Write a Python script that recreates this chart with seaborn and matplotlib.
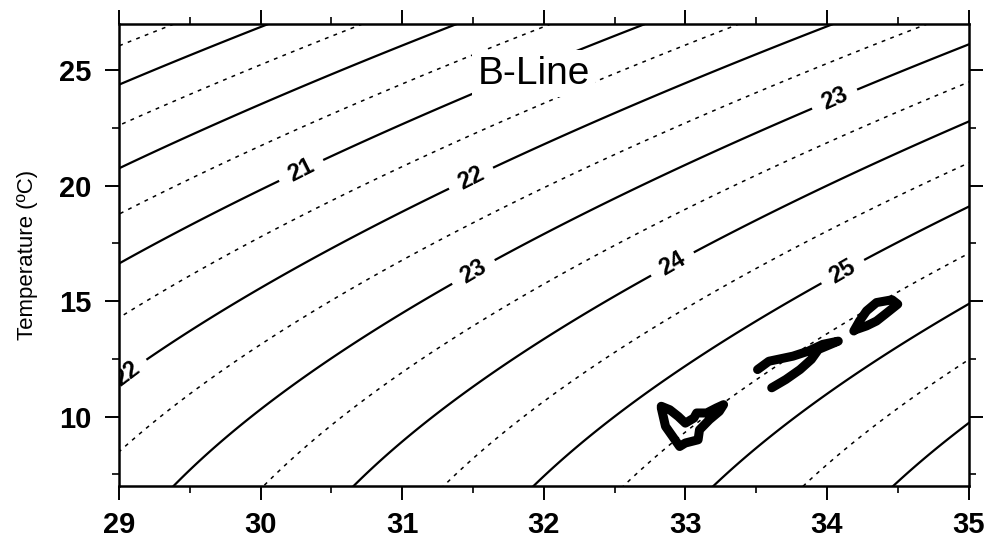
import numpy as np
import pandas as pd
import matplotlib
matplotlib.use("Agg")
import matplotlib.pyplot as plt
from matplotlib.ticker import MultipleLocator
import seaborn as sns

# Axis ranges and ticks
sal_range = (29.0, 35.0)
temp_range = (7.0, 27.0)
sal_ticks = [29, 30, 31, 32, 33, 34, 35]
temp_ticks = [10, 15, 20, 25]

# Sigma-t contour levels: whole units solid, half units dashed
solid_levels = np.arange(16.0, 29.0, 1.0)
dashed_levels = np.arange(15.5, 29.0, 1.0)

# Labelled contours and where their labels sit (salinity, temperature)
label_levels = [21, 22, 23, 24, 25]
label_sal = [29.05, 30.28, 31.50, 31.51, 32.90, 34.10, 34.05]
label_temp = [11.9, 20.74, 20.17, 16.2, 16.7, 16.4, 23.8]

# Observed T-S traces along the B-Line
trace1_sal = [32.83, 32.86, 32.96, 33.00, 33.09, 33.10, 33.17, 33.24, 33.27,
              33.22, 33.15, 33.08, 33.06, 33.00, 32.95, 32.89, 32.83]
trace1_temp = [10.38, 9.58, 8.71, 8.86, 9.00, 9.43, 9.87, 10.23, 10.52,
               10.38, 10.16, 10.16, 9.94, 9.72, 10.01, 10.30, 10.45]
trace2_sal = [33.61, 33.71, 33.81, 33.89, 33.94, 34.08, 33.97, 33.87, 33.76,
              33.59, 33.51]
trace2_temp = [11.25, 11.61, 12.04, 12.48, 12.91, 13.27, 13.13, 12.84, 12.62,
               12.40, 12.04]
trace3_sal = [34.19, 34.23, 34.28, 34.35, 34.46, 34.50, 34.41, 34.35, 34.28,
              34.21]
trace3_temp = [13.71, 14.14, 14.58, 14.94, 15.06, 14.87, 14.43, 14.14, 13.93,
               13.78]


def sigma_t(S, T):
    """Seawater density anomaly at the surface (UNESCO EOS-80)."""
    rho_w = (999.842594 + 6.793952e-2 * T - 9.095290e-3 * T**2
             + 1.001685e-4 * T**3 - 1.120083e-6 * T**4 + 6.536332e-9 * T**5)
    A = (8.24493e-1 - 4.0899e-3 * T + 7.6438e-5 * T**2
         - 8.2467e-7 * T**3 + 5.3875e-9 * T**4)
    B = -5.72466e-3 + 1.0227e-4 * T - 1.6546e-6 * T**2
    C = 4.8314e-4
    return rho_w + A * S + B * S**1.5 + C * S**2 - 1000.0


sns.set_theme(style="ticks")
plt.rcParams["font.family"] = ["Liberation Sans", "DejaVu Sans"]
plt.rcParams.update({
    "text.color": "black", "axes.labelcolor": "black",
    "xtick.labelcolor": "black", "ytick.labelcolor": "black",
    "xtick.direction": "out", "ytick.direction": "out",
    "xtick.top": True, "ytick.right": True,
    "xtick.major.size": 10, "ytick.major.size": 10,
    "xtick.minor.size": 5, "ytick.minor.size": 5,
    "xtick.major.width": 1.4, "ytick.major.width": 1.4,
    "xtick.minor.width": 1.2, "ytick.minor.width": 1.2,
    "xtick.color": "black", "ytick.color": "black",
    "axes.edgecolor": "black", "axes.linewidth": 1.8,
})

fig = plt.figure(figsize=(9.88, 5.49), dpi=100)
ax = fig.add_axes([0.1204, 0.1148, 0.8599, 0.8415])

S_grid, T_grid = np.meshgrid(np.linspace(28.5, 35.5, 300),
                             np.linspace(6.0, 28.0, 300))
sig = sigma_t(S_grid, T_grid)

cs_dash = ax.contour(S_grid, T_grid, sig, levels=dashed_levels,
                     colors="black", linewidths=1.1)
cs_dash.set_linestyle((0, (2.5, 3.5)))

plain_levels = [lv for lv in solid_levels if lv not in label_levels]
ax.contour(S_grid, T_grid, sig, levels=plain_levels,
           colors="black", linewidths=1.6, linestyles="solid")
cs_lab = ax.contour(S_grid, T_grid, sig, levels=label_levels,
                    colors="black", linewidths=1.6, linestyles="solid")
lab_texts = ax.clabel(cs_lab, fmt="%d", fontsize=17, inline=True,
                      inline_spacing=8,
                      manual=list(zip(label_sal, label_temp)))
for t in lab_texts:
    t.set_fontweight("bold")
    t.set_color("black")

traces = pd.DataFrame({
    "salinity": trace1_sal + trace2_sal + trace3_sal,
    "temperature": trace1_temp + trace2_temp + trace3_temp,
    "segment": ([1] * len(trace1_sal) + [2] * len(trace2_sal)
                + [3] * len(trace3_sal)),
})
sns.lineplot(data=traces, x="salinity", y="temperature", units="segment",
             estimator=None, sort=False, color="black", linewidth=6.5,
             solid_capstyle="round", solid_joinstyle="round", ax=ax,
             legend=False)

ax.text(31.93, 24.85, "B-Line", fontsize=28, color="black",
        ha="center", va="center",
        bbox=dict(facecolor="white", edgecolor="none", pad=4), zorder=5)

ax.set_xlim(*sal_range)
ax.set_ylim(*temp_range)
ax.set_xticks(sal_ticks)
ax.set_yticks(temp_ticks)
ax.xaxis.set_minor_locator(MultipleLocator(0.5))
ax.yaxis.set_minor_locator(MultipleLocator(2.5))
ax.tick_params(axis="both", which="major", labelsize=21)
ax.tick_params(axis="x", which="major", pad=8)
ax.tick_params(axis="y", which="major", pad=10)
for lbl in ax.get_xticklabels() + ax.get_yticklabels():
    lbl.set_fontweight("bold")
ax.set_xlabel("")
ax.set_ylabel("Temperature (ºC)", fontsize=16, labelpad=15, color="black")
for side in ax.spines.values():
    side.set_visible(True)

fig.savefig("out.png", dpi=100)
